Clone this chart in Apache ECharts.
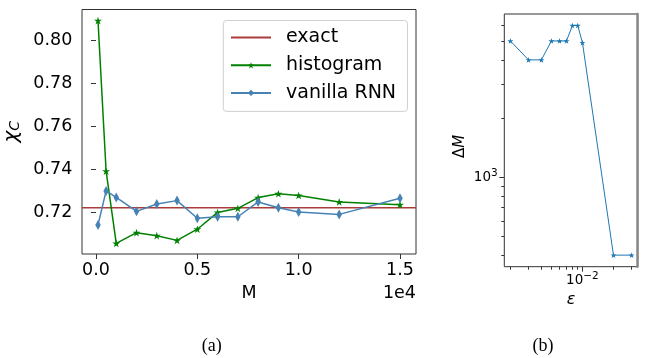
<!DOCTYPE html>
<html><head><meta charset="utf-8">
<script src="https://cdn.jsdelivr.net/npm/echarts@6/dist/echarts.min.js"></script>
<style>html,body{margin:0;padding:0;background:#fff}#c{width:646px;height:358px}</style>
</head><body><div id="c"></div>
<script>
// ---- panel (a) data ----
const sampleSizes = [100, 500, 1000, 2000, 3000, 4000, 5000, 6000, 7000, 8000, 9000, 10000, 12000, 15000];
const histogramChi = [0.809, 0.739, 0.7054, 0.7104, 0.709, 0.7068, 0.712, 0.7198, 0.7217, 0.7267, 0.7285, 0.7277, 0.7247, 0.7234];
const rnnChi = [0.714, 0.7298, 0.7268, 0.7203, 0.7237, 0.7253, 0.7171, 0.7178, 0.7178, 0.7247, 0.722, 0.720, 0.7189, 0.7264];
const exactChi = 0.722;
const xTicksA = [0, 5000, 10000, 15000];
const yTicksA = [0.72, 0.74, 0.76, 0.78, 0.80];
// ---- panel (b) data ----
const epsilons = [0.002, 0.003, 0.004, 0.005, 0.006, 0.007, 0.008, 0.009, 0.01, 0.02, 0.03];
const deltaM = [5000, 4000, 4000, 5000, 5000, 5000, 6000, 6000, 4900, 400, 400];
const xMajorB = [0.01];
const xMinorB = [0.002, 0.003, 0.004, 0.005, 0.006, 0.007, 0.008, 0.009, 0.02, 0.03];
const yMajorB = [1000];
const yMinorB = [400, 500, 600, 700, 800, 900, 2000, 3000, 4000, 5000, 6000];

const FONT = 'DejaVu Sans';
const STAR = 'path://M50,0 L61.17,34.63 L97.55,34.55 L68.07,55.87 L79.39,90.45 L50,69 L20.61,90.45 L31.93,55.87 L2.45,34.55 L38.83,34.63 Z';

const A_XMIN = -690, A_XMAX = 15790, A_YMIN = 0.70047, A_YMAX = 0.8142;
const B_XMIN = 0.001746, B_XMAX = 0.03436, B_YMIN = 349, B_YMAX = 6871;
const lg = Math.log10;

const chart = echarts.init(document.getElementById('c'));
const supRich = {
  b: {fontSize: 13.5, fontFamily: FONT, color: '#000'},
  s: {fontSize: 10.5, fontFamily: FONT, color: '#000', padding: [0, 0, 8, 0]}
};
const powLabel = v => { const e = Math.round(v); return '{b|10}{s|' + (e < 0 ? '\u2212' : '') + Math.abs(e) + '}'; };

chart.setOption({
  animation: false,
  backgroundColor: '#fff',
  grid: [
    {left: 82, top: 9.5, width: 334, height: 244.5, show: true, borderColor: '#333', borderWidth: 1, backgroundColor: 'transparent', containLabel: false, outerBoundsMode: 'none'},
    {left: 504.3, top: 14, width: 133.4, height: 252.7, show: true, borderColor: '#333', borderWidth: 1, backgroundColor: 'transparent', containLabel: false, outerBoundsMode: 'none'}
  ],
  legend: {
    data: [{name: 'exact', itemStyle: {opacity: 0}}, 'histogram', 'vanilla RNN'],
    orient: 'vertical', left: 223.3, top: 20.5,
    padding: [7.5, 11.4, 9, 6.7],
    itemWidth: 40, itemHeight: 8, itemGap: 8.7,
    backgroundColor: 'rgba(255,255,255,0.85)', borderColor: '#d0d0d0', borderWidth: 1, borderRadius: 3,
    selectedMode: false,
    textStyle: {fontSize: 19, fontFamily: FONT, color: '#000', lineHeight: 19, padding: [0, 0, 0, 10]}
  },
  xAxis: [
    {gridIndex: 0, type: 'value', position: 'bottom', min: A_XMIN, max: A_XMAX,
     axisLine: {show: false}, splitLine: {show: false},
     axisTick: {customValues: xTicksA, length: 5, lineStyle: {color: '#333'}},
     axisLabel: {customValues: xTicksA, formatter: v => (v / 10000).toFixed(1), margin: 7, fontSize: 17.5, fontFamily: FONT, color: '#000'},
     name: 'M', nameLocation: 'middle', nameGap: 30, nameTextStyle: {fontSize: 17.5, fontFamily: FONT, color: '#000'}},
    {gridIndex: 1, type: 'log', position: 'bottom', logBase: 10, min: B_XMIN, max: B_XMAX, show: false},
    {gridIndex: 1, type: 'value', position: 'bottom', min: lg(B_XMIN), max: lg(B_XMAX),
     axisLine: {show: false}, splitLine: {show: false}, axisLabel: {show: false},
     axisTick: {customValues: xMinorB.map(lg), length: 3, lineStyle: {color: '#333'}}},
    {gridIndex: 1, type: 'value', position: 'bottom', min: lg(B_XMIN), max: lg(B_XMAX),
     axisLine: {show: false}, splitLine: {show: false},
     axisTick: {customValues: xMajorB.map(lg), length: 5, lineStyle: {color: '#333'}},
     axisLabel: {customValues: xMajorB.map(lg), formatter: powLabel, margin: 4, rich: supRich},
     name: 'ε', nameLocation: 'middle', nameGap: 19, nameTextStyle: {fontSize: 16, fontStyle: 'italic', fontFamily: FONT, color: '#000'}}
  ],
  yAxis: [
    {gridIndex: 0, type: 'value', position: 'left', min: A_YMIN, max: A_YMAX,
     axisLine: {show: false}, splitLine: {show: false},
     axisTick: {customValues: yTicksA, length: 5, lineStyle: {color: '#333'}},
     axisLabel: {customValues: yTicksA, formatter: v => v.toFixed(2), margin: 9.7, fontSize: 17.5, fontFamily: FONT, color: '#000'},
     name: '{a|χ}{b|C}', nameLocation: 'middle', nameRotate: 90, nameGap: 50,
     nameTextStyle: {rich: {
       a: {fontSize: 20, fontStyle: 'italic', fontFamily: FONT, color: '#000'},
       b: {fontSize: 14, fontStyle: 'italic', fontFamily: FONT, color: '#000', padding: [8, 0, 0, 0]}
     }}},
    {gridIndex: 1, type: 'log', position: 'left', logBase: 10, min: B_YMIN, max: B_YMAX, show: false},
    {gridIndex: 1, type: 'value', position: 'left', min: lg(B_YMIN), max: lg(B_YMAX),
     axisLine: {show: false}, splitLine: {show: false}, axisLabel: {show: false},
     axisTick: {customValues: yMinorB.map(lg), length: 3, lineStyle: {color: '#333'}}},
    {gridIndex: 1, type: 'value', position: 'left', min: lg(B_YMIN), max: lg(B_YMAX),
     axisLine: {show: false}, splitLine: {show: false},
     axisTick: {customValues: yMajorB.map(lg), length: 5, lineStyle: {color: '#333'}},
     axisLabel: {customValues: yMajorB.map(lg), formatter: powLabel, margin: 6.6, rich: supRich},
     name: '{a|Δ}{b|M}', nameLocation: 'middle', nameRotate: 90, nameGap: 37,
     nameTextStyle: {padding: [0, 12, 0, 0], rich: {
       a: {fontSize: 15, fontFamily: FONT, color: '#000'},
       b: {fontSize: 15, fontStyle: 'italic', fontFamily: FONT, color: '#000'}
     }}},
    {gridIndex: 1, type: 'value', position: 'right', min: 0, max: 1,
     axisLine: {show: true, lineStyle: {color: '#888', width: 2.5}},
     axisTick: {show: false}, axisLabel: {show: false}, splitLine: {show: false}}
  ],
  series: [
    {name: 'exact', type: 'line', xAxisIndex: 0, yAxisIndex: 0, symbol: 'none',
     data: [[A_XMIN, exactChi], [A_XMAX, exactChi]],
     lineStyle: {color: '#aa3c3c', width: 1.5}, itemStyle: {color: '#aa3c3c'}},
    {name: 'histogram', type: 'line', xAxisIndex: 0, yAxisIndex: 0,
     data: sampleSizes.map((m, i) => [m, histogramChi[i]]),
     symbol: STAR, symbolSize: 8, symbolKeepAspect: true,
     lineStyle: {color: '#008000', width: 1.5}, itemStyle: {color: '#008000'}},
    {name: 'vanilla RNN', type: 'line', xAxisIndex: 0, yAxisIndex: 0,
     data: sampleSizes.map((m, i) => [m, rnnChi[i]]),
     symbol: 'diamond', symbolSize: [5.5, 10],
     lineStyle: {color: '#4682b4', width: 1.5}, itemStyle: {color: '#4682b4'}},
    {name: 'deltaM', type: 'line', xAxisIndex: 1, yAxisIndex: 1,
     data: epsilons.map((e, i) => [e, deltaM[i]]),
     symbol: STAR, symbolSize: 6, symbolKeepAspect: true,
     lineStyle: {color: '#1f77b4', width: 1}, itemStyle: {color: '#1f77b4'}}
  ],
  graphic: [
    {type: 'text', x: 416, y: 293, style: {text: '1e4', fontSize: 17.5, fontFamily: FONT, fill: '#000', align: 'right', verticalAlign: 'middle'}},
    {type: 'text', x: 211.7, y: 346, style: {text: '(a)', fontSize: 18, fontFamily: 'Liberation Serif', fill: '#000', align: 'center', verticalAlign: 'middle'}},
    {type: 'text', x: 543, y: 346, style: {text: '(b)', fontSize: 18, fontFamily: 'Liberation Serif', fill: '#000', align: 'center', verticalAlign: 'middle'}}
  ]
});
</script>
</body></html>
